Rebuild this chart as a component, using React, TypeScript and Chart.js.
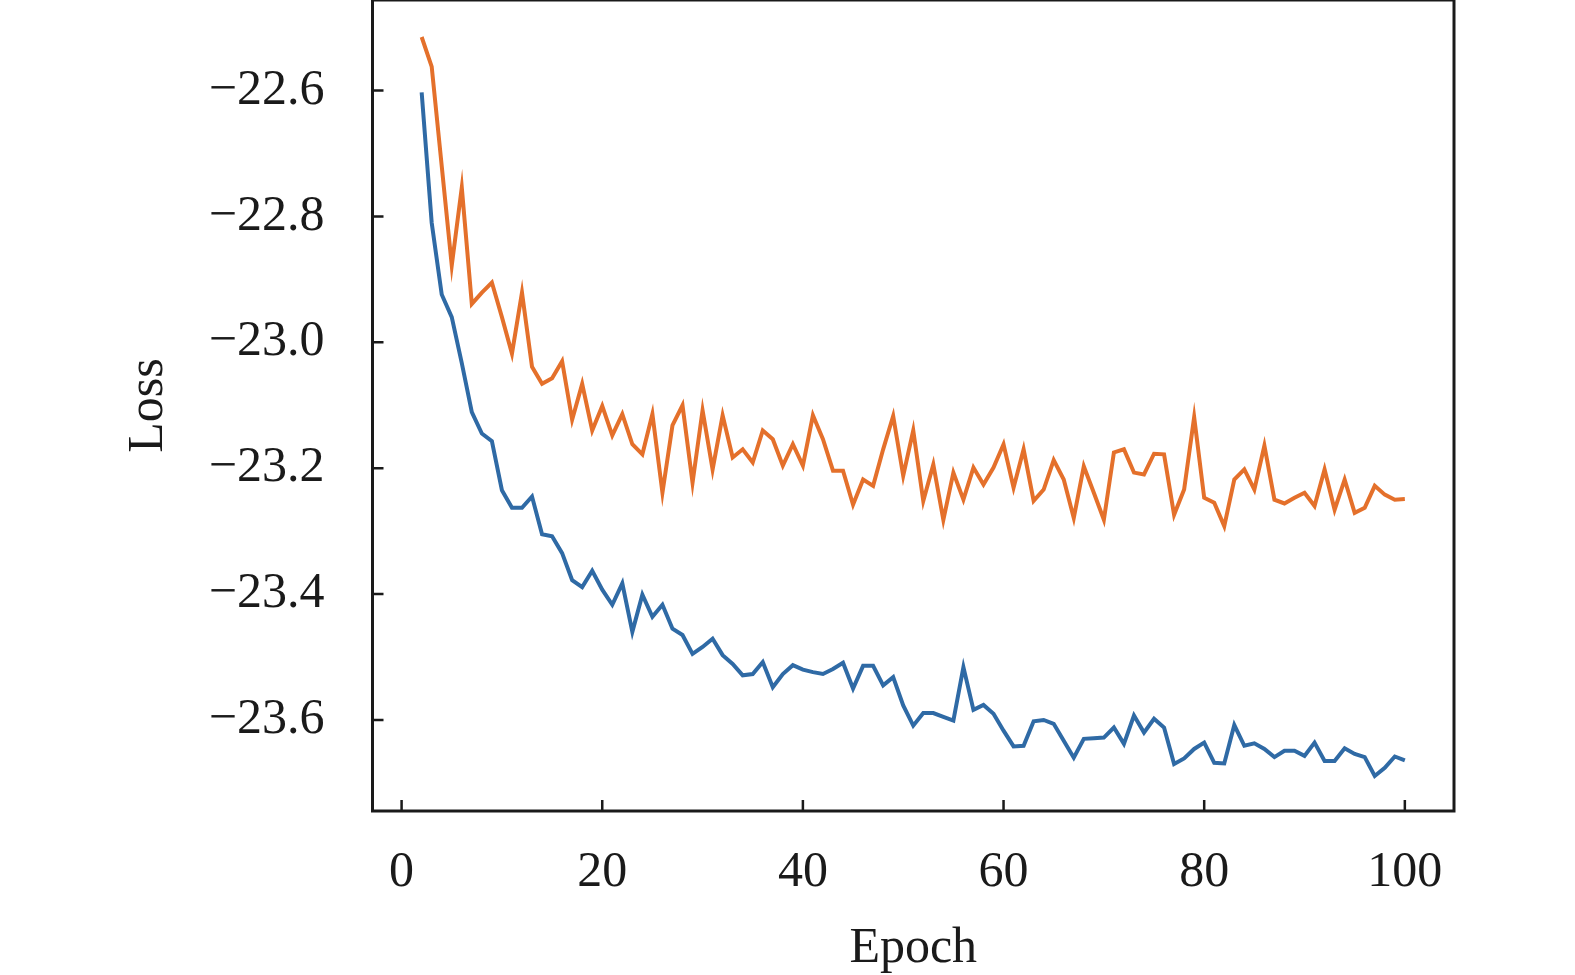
import React, { useEffect, useRef } from "react";
import { Chart, registerables } from "chart.js";

Chart.register(...registerables);

const epochs = [
  2, 3, 4, 5, 6, 7, 8, 9, 10, 11, 12, 13, 14, 15, 16, 17, 18, 19, 20, 21,
  22, 23, 24, 25, 26, 27, 28, 29, 30, 31, 32, 33, 34, 35, 36, 37, 38, 39, 40, 41,
  42, 43, 44, 45, 46, 47, 48, 49, 50, 51, 52, 53, 54, 55, 56, 57, 58, 59, 60, 61,
  62, 63, 64, 65, 66, 67, 68, 69, 70, 71, 72, 73, 74, 75, 76, 77, 78, 79, 80, 81,
  82, 83, 84, 85, 86, 87, 88, 89, 90, 91, 92, 93, 94, 95, 96, 97, 98, 99, 100,
];

const orangeLoss = [
  -22.515, -22.562, -22.72, -22.878, -22.754, -22.939, -22.921, -22.905, -22.96, -23.018,
  -22.921, -23.039, -23.066, -23.057, -23.03, -23.123, -23.066, -23.14, -23.101, -23.148,
  -23.114, -23.162, -23.178, -23.114, -23.239, -23.132, -23.1, -23.223, -23.108, -23.202,
  -23.116, -23.183, -23.17, -23.191, -23.14, -23.154, -23.196, -23.162, -23.196, -23.116,
  -23.154, -23.204, -23.204, -23.258, -23.218, -23.228, -23.17, -23.117, -23.212, -23.14,
  -23.252, -23.194, -23.282, -23.207, -23.25, -23.199, -23.226, -23.199, -23.162, -23.231,
  -23.17, -23.252, -23.234, -23.187, -23.218, -23.279, -23.197, -23.239, -23.282, -23.175,
  -23.17, -23.207, -23.21, -23.177, -23.178, -23.274, -23.234, -23.119, -23.247, -23.255,
  -23.292, -23.218, -23.202, -23.234, -23.164, -23.25, -23.256, -23.247, -23.239, -23.26,
  -23.202, -23.266, -23.218, -23.271, -23.263, -23.228, -23.242, -23.25, -23.249,
];

const blueLoss = [
  -22.603, -22.81, -22.924, -22.96, -23.033, -23.111, -23.145, -23.157, -23.235, -23.263,
  -23.263, -23.245, -23.305, -23.308, -23.335, -23.378, -23.389, -23.363, -23.393, -23.417,
  -23.383, -23.46, -23.401, -23.436, -23.417, -23.455, -23.465, -23.495, -23.484, -23.471,
  -23.497, -23.511, -23.529, -23.527, -23.508, -23.548, -23.527, -23.513, -23.52, -23.524,
  -23.527, -23.519, -23.509, -23.55, -23.514, -23.514, -23.545, -23.532, -23.577, -23.609,
  -23.589, -23.589, -23.595, -23.601, -23.516, -23.584, -23.576, -23.59, -23.617, -23.642,
  -23.641, -23.602, -23.6, -23.606, -23.633, -23.66, -23.63, -23.629, -23.628, -23.612,
  -23.638, -23.593, -23.62, -23.598, -23.612, -23.67, -23.661, -23.646, -23.636, -23.668,
  -23.669, -23.608, -23.641, -23.637, -23.646, -23.659, -23.649, -23.649, -23.657, -23.636,
  -23.665, -23.665, -23.645, -23.654, -23.659, -23.689, -23.676, -23.658, -23.664,
];

const xTickValues = [0, 20, 40, 60, 80, 100];
const xTickLabels = ["0", "20", "40", "60", "80", "100"];
const yTickValues = [-23.6, -23.4, -23.2, -23.0, -22.8, -22.6];
const yTickLabels = ["\u221223.6", "\u221223.4", "\u221223.2", "\u221223.0", "\u221222.8", "\u221222.6"];

const FONT = "'Liberation Serif', 'Times New Roman', serif";
const INK = "#1a1a1a";

const framePlugin = {
  id: "frameAndInwardTicks",
  afterDatasetsDraw(chart: any) {
    const { ctx, chartArea, scales } = chart;
    const { left, right, top, bottom } = chartArea;
    ctx.save();
    ctx.strokeStyle = INK;
    ctx.lineWidth = 2.5;
    const tickLen = 11;
    ctx.beginPath();
    for (const v of xTickValues) {
      const px = scales.x.getPixelForValue(v);
      ctx.moveTo(px, bottom);
      ctx.lineTo(px, bottom - tickLen);
    }
    for (const v of yTickValues) {
      const py = scales.y.getPixelForValue(v);
      ctx.moveTo(left, py);
      ctx.lineTo(left + tickLen, py);
    }
    ctx.stroke();
    ctx.lineWidth = 3;
    ctx.strokeRect(left, top, right - left, bottom - top);
    ctx.restore();
  },
};

function zeroPadding(scale: any) {
  scale.paddingTop = 0;
  scale.paddingBottom = 0;
  scale.paddingLeft = 0;
  scale.paddingRight = 0;
}

export default function App() {
  const canvasRef = useRef<HTMLCanvasElement | null>(null);

  useEffect(() => {
    if (!canvasRef.current) return;
    const chart = new Chart(canvasRef.current, {
      type: "line",
      data: {
        datasets: [
          {
            label: "Validation loss",
            data: epochs.map((e, i) => ({ x: e, y: orangeLoss[i] })),
            borderColor: "#e4702b",
            borderWidth: 4,
            pointRadius: 0,
            tension: 0,
            fill: false,
          },
          {
            label: "Training loss",
            data: epochs.map((e, i) => ({ x: e, y: blueLoss[i] })),
            borderColor: "#2f6aa5",
            borderWidth: 4,
            pointRadius: 0,
            tension: 0,
            fill: false,
          },
        ],
      },
      options: {
        responsive: false,
        animation: false,
        devicePixelRatio: 1,
        layout: { padding: { left: 0, top: 0, right: 121, bottom: 0 } },
        plugins: {
          legend: { display: false },
          tooltip: { enabled: false },
        },
        scales: {
          x: {
            type: "linear",
            min: -2.9,
            max: 104.9,
            grid: { display: false, drawTicks: false },
            border: { display: false },
            afterBuildTicks: (scale: any) => {
              scale.ticks = xTickValues.map((v) => ({ value: v }));
            },
            afterFit: (scale: any) => {
              scale.height = 164;
              zeroPadding(scale);
            },
            ticks: {
              padding: 32,
              color: INK,
              font: { family: FONT, size: 50 },
              maxRotation: 0,
              autoSkip: false,
              callback: (value: any) => {
                const i = xTickValues.indexOf(Number(value));
                return i >= 0 ? xTickLabels[i] : "";
              },
            },
            title: {
              display: true,
              text: "Epoch",
              color: INK,
              font: { family: FONT, size: 50 },
              padding: { top: 0, bottom: -4 },
            },
          },
          y: {
            type: "linear",
            min: -23.7446,
            max: -22.4562,
            grid: { display: false, drawTicks: false },
            border: { display: false },
            afterBuildTicks: (scale: any) => {
              scale.ticks = yTickValues.map((v) => ({ value: v }));
            },
            afterFit: (scale: any) => {
              scale.width = 372.5;
              zeroPadding(scale);
            },
            ticks: {
              padding: 48,
              color: INK,
              font: { family: FONT, size: 50 },
              autoSkip: false,
              callback: (value: any) => {
                const i = yTickValues.findIndex((t) => Math.abs(t - Number(value)) < 1e-6);
                return i >= 0 ? yTickLabels[i] : "";
              },
            },
            title: {
              display: true,
              text: "Loss",
              color: INK,
              font: { family: FONT, size: 50 },
              padding: { top: 119, bottom: 0 },
            },
          },
        },
      },
      plugins: [framePlugin],
    } as any);
    return () => chart.destroy();
  }, []);

  return (
    <div style={{ position: "fixed", left: 0, top: 0, width: 1575, height: 975, background: "#fff" }}>
      <canvas ref={canvasRef} width={1575} height={975} style={{ display: "block" }} />
    </div>
  );
}
